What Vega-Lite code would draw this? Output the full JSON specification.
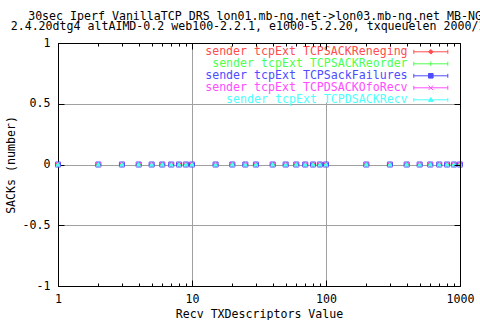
{
  "$schema": "https://vega.github.io/schema/vega-lite/v6.json",
  "width": 402,
  "height": 243,
  "autosize": {"type": "none"},
  "padding": {"left": 58, "top": 43, "right": 20, "bottom": 34},
  "background": "white",
  "title": {
    "text": ["30sec Iperf VanillaTCP DRS lon01.mb-ng.net->lon03.mb-ng.net MB-NG", "2.4.20dtg4 altAIMD-0.2 web100-2.2.1, e1000-5.2.20, txqueuelen 2000/100"],
    "anchor": "middle", "frame": "group", "dx": -4, "offset": 4,
    "font": "DejaVu Sans Mono", "fontSize": 11.6, "fontWeight": "normal", "color": "black", "lineHeight": 10.5
  },
  "data": {"values": [
    {"series": "sender tcpExt TCPSACKReneging", "x": 1, "y": 0},
    {"series": "sender tcpExt TCPSACKReneging", "x": 2, "y": 0},
    {"series": "sender tcpExt TCPSACKReneging", "x": 3, "y": 0},
    {"series": "sender tcpExt TCPSACKReneging", "x": 4, "y": 0},
    {"series": "sender tcpExt TCPSACKReneging", "x": 5, "y": 0},
    {"series": "sender tcpExt TCPSACKReneging", "x": 6, "y": 0},
    {"series": "sender tcpExt TCPSACKReneging", "x": 7, "y": 0},
    {"series": "sender tcpExt TCPSACKReneging", "x": 8, "y": 0},
    {"series": "sender tcpExt TCPSACKReneging", "x": 9, "y": 0},
    {"series": "sender tcpExt TCPSACKReneging", "x": 10, "y": 0},
    {"series": "sender tcpExt TCPSACKReneging", "x": 15, "y": 0},
    {"series": "sender tcpExt TCPSACKReneging", "x": 20, "y": 0},
    {"series": "sender tcpExt TCPSACKReneging", "x": 25, "y": 0},
    {"series": "sender tcpExt TCPSACKReneging", "x": 30, "y": 0},
    {"series": "sender tcpExt TCPSACKReneging", "x": 40, "y": 0},
    {"series": "sender tcpExt TCPSACKReneging", "x": 50, "y": 0},
    {"series": "sender tcpExt TCPSACKReneging", "x": 60, "y": 0},
    {"series": "sender tcpExt TCPSACKReneging", "x": 70, "y": 0},
    {"series": "sender tcpExt TCPSACKReneging", "x": 80, "y": 0},
    {"series": "sender tcpExt TCPSACKReneging", "x": 90, "y": 0},
    {"series": "sender tcpExt TCPSACKReneging", "x": 100, "y": 0},
    {"series": "sender tcpExt TCPSACKReneging", "x": 200, "y": 0},
    {"series": "sender tcpExt TCPSACKReneging", "x": 300, "y": 0},
    {"series": "sender tcpExt TCPSACKReneging", "x": 400, "y": 0},
    {"series": "sender tcpExt TCPSACKReneging", "x": 500, "y": 0},
    {"series": "sender tcpExt TCPSACKReneging", "x": 600, "y": 0},
    {"series": "sender tcpExt TCPSACKReneging", "x": 700, "y": 0},
    {"series": "sender tcpExt TCPSACKReneging", "x": 800, "y": 0},
    {"series": "sender tcpExt TCPSACKReneging", "x": 900, "y": 0},
    {"series": "sender tcpExt TCPSACKReneging", "x": 1000, "y": 0},
    {"series": "sender tcpExt TCPSACKReorder", "x": 1, "y": 0},
    {"series": "sender tcpExt TCPSACKReorder", "x": 2, "y": 0},
    {"series": "sender tcpExt TCPSACKReorder", "x": 3, "y": 0},
    {"series": "sender tcpExt TCPSACKReorder", "x": 4, "y": 0},
    {"series": "sender tcpExt TCPSACKReorder", "x": 5, "y": 0},
    {"series": "sender tcpExt TCPSACKReorder", "x": 6, "y": 0},
    {"series": "sender tcpExt TCPSACKReorder", "x": 7, "y": 0},
    {"series": "sender tcpExt TCPSACKReorder", "x": 8, "y": 0},
    {"series": "sender tcpExt TCPSACKReorder", "x": 9, "y": 0},
    {"series": "sender tcpExt TCPSACKReorder", "x": 10, "y": 0},
    {"series": "sender tcpExt TCPSACKReorder", "x": 15, "y": 0},
    {"series": "sender tcpExt TCPSACKReorder", "x": 20, "y": 0},
    {"series": "sender tcpExt TCPSACKReorder", "x": 25, "y": 0},
    {"series": "sender tcpExt TCPSACKReorder", "x": 30, "y": 0},
    {"series": "sender tcpExt TCPSACKReorder", "x": 40, "y": 0},
    {"series": "sender tcpExt TCPSACKReorder", "x": 50, "y": 0},
    {"series": "sender tcpExt TCPSACKReorder", "x": 60, "y": 0},
    {"series": "sender tcpExt TCPSACKReorder", "x": 70, "y": 0},
    {"series": "sender tcpExt TCPSACKReorder", "x": 80, "y": 0},
    {"series": "sender tcpExt TCPSACKReorder", "x": 90, "y": 0},
    {"series": "sender tcpExt TCPSACKReorder", "x": 100, "y": 0},
    {"series": "sender tcpExt TCPSACKReorder", "x": 200, "y": 0},
    {"series": "sender tcpExt TCPSACKReorder", "x": 300, "y": 0},
    {"series": "sender tcpExt TCPSACKReorder", "x": 400, "y": 0},
    {"series": "sender tcpExt TCPSACKReorder", "x": 500, "y": 0},
    {"series": "sender tcpExt TCPSACKReorder", "x": 600, "y": 0},
    {"series": "sender tcpExt TCPSACKReorder", "x": 700, "y": 0},
    {"series": "sender tcpExt TCPSACKReorder", "x": 800, "y": 0},
    {"series": "sender tcpExt TCPSACKReorder", "x": 900, "y": 0},
    {"series": "sender tcpExt TCPSACKReorder", "x": 1000, "y": 0},
    {"series": "sender tcpExt TCPSackFailures", "x": 1, "y": 0},
    {"series": "sender tcpExt TCPSackFailures", "x": 2, "y": 0},
    {"series": "sender tcpExt TCPSackFailures", "x": 3, "y": 0},
    {"series": "sender tcpExt TCPSackFailures", "x": 4, "y": 0},
    {"series": "sender tcpExt TCPSackFailures", "x": 5, "y": 0},
    {"series": "sender tcpExt TCPSackFailures", "x": 6, "y": 0},
    {"series": "sender tcpExt TCPSackFailures", "x": 7, "y": 0},
    {"series": "sender tcpExt TCPSackFailures", "x": 8, "y": 0},
    {"series": "sender tcpExt TCPSackFailures", "x": 9, "y": 0},
    {"series": "sender tcpExt TCPSackFailures", "x": 10, "y": 0},
    {"series": "sender tcpExt TCPSackFailures", "x": 15, "y": 0},
    {"series": "sender tcpExt TCPSackFailures", "x": 20, "y": 0},
    {"series": "sender tcpExt TCPSackFailures", "x": 25, "y": 0},
    {"series": "sender tcpExt TCPSackFailures", "x": 30, "y": 0},
    {"series": "sender tcpExt TCPSackFailures", "x": 40, "y": 0},
    {"series": "sender tcpExt TCPSackFailures", "x": 50, "y": 0},
    {"series": "sender tcpExt TCPSackFailures", "x": 60, "y": 0},
    {"series": "sender tcpExt TCPSackFailures", "x": 70, "y": 0},
    {"series": "sender tcpExt TCPSackFailures", "x": 80, "y": 0},
    {"series": "sender tcpExt TCPSackFailures", "x": 90, "y": 0},
    {"series": "sender tcpExt TCPSackFailures", "x": 100, "y": 0},
    {"series": "sender tcpExt TCPSackFailures", "x": 200, "y": 0},
    {"series": "sender tcpExt TCPSackFailures", "x": 300, "y": 0},
    {"series": "sender tcpExt TCPSackFailures", "x": 400, "y": 0},
    {"series": "sender tcpExt TCPSackFailures", "x": 500, "y": 0},
    {"series": "sender tcpExt TCPSackFailures", "x": 600, "y": 0},
    {"series": "sender tcpExt TCPSackFailures", "x": 700, "y": 0},
    {"series": "sender tcpExt TCPSackFailures", "x": 800, "y": 0},
    {"series": "sender tcpExt TCPSackFailures", "x": 900, "y": 0},
    {"series": "sender tcpExt TCPSackFailures", "x": 1000, "y": 0},
    {"series": "sender tcpExt TCPDSACKOfoRecv", "x": 1, "y": 0},
    {"series": "sender tcpExt TCPDSACKOfoRecv", "x": 2, "y": 0},
    {"series": "sender tcpExt TCPDSACKOfoRecv", "x": 3, "y": 0},
    {"series": "sender tcpExt TCPDSACKOfoRecv", "x": 4, "y": 0},
    {"series": "sender tcpExt TCPDSACKOfoRecv", "x": 5, "y": 0},
    {"series": "sender tcpExt TCPDSACKOfoRecv", "x": 6, "y": 0},
    {"series": "sender tcpExt TCPDSACKOfoRecv", "x": 7, "y": 0},
    {"series": "sender tcpExt TCPDSACKOfoRecv", "x": 8, "y": 0},
    {"series": "sender tcpExt TCPDSACKOfoRecv", "x": 9, "y": 0},
    {"series": "sender tcpExt TCPDSACKOfoRecv", "x": 10, "y": 0},
    {"series": "sender tcpExt TCPDSACKOfoRecv", "x": 15, "y": 0},
    {"series": "sender tcpExt TCPDSACKOfoRecv", "x": 20, "y": 0},
    {"series": "sender tcpExt TCPDSACKOfoRecv", "x": 25, "y": 0},
    {"series": "sender tcpExt TCPDSACKOfoRecv", "x": 30, "y": 0},
    {"series": "sender tcpExt TCPDSACKOfoRecv", "x": 40, "y": 0},
    {"series": "sender tcpExt TCPDSACKOfoRecv", "x": 50, "y": 0},
    {"series": "sender tcpExt TCPDSACKOfoRecv", "x": 60, "y": 0},
    {"series": "sender tcpExt TCPDSACKOfoRecv", "x": 70, "y": 0},
    {"series": "sender tcpExt TCPDSACKOfoRecv", "x": 80, "y": 0},
    {"series": "sender tcpExt TCPDSACKOfoRecv", "x": 90, "y": 0},
    {"series": "sender tcpExt TCPDSACKOfoRecv", "x": 100, "y": 0},
    {"series": "sender tcpExt TCPDSACKOfoRecv", "x": 200, "y": 0},
    {"series": "sender tcpExt TCPDSACKOfoRecv", "x": 300, "y": 0},
    {"series": "sender tcpExt TCPDSACKOfoRecv", "x": 400, "y": 0},
    {"series": "sender tcpExt TCPDSACKOfoRecv", "x": 500, "y": 0},
    {"series": "sender tcpExt TCPDSACKOfoRecv", "x": 600, "y": 0},
    {"series": "sender tcpExt TCPDSACKOfoRecv", "x": 700, "y": 0},
    {"series": "sender tcpExt TCPDSACKOfoRecv", "x": 800, "y": 0},
    {"series": "sender tcpExt TCPDSACKOfoRecv", "x": 900, "y": 0},
    {"series": "sender tcpExt TCPDSACKOfoRecv", "x": 1000, "y": 0},
    {"series": "sender tcpExt TCPDSACKRecv", "x": 1, "y": 0},
    {"series": "sender tcpExt TCPDSACKRecv", "x": 2, "y": 0},
    {"series": "sender tcpExt TCPDSACKRecv", "x": 3, "y": 0},
    {"series": "sender tcpExt TCPDSACKRecv", "x": 4, "y": 0},
    {"series": "sender tcpExt TCPDSACKRecv", "x": 5, "y": 0},
    {"series": "sender tcpExt TCPDSACKRecv", "x": 6, "y": 0},
    {"series": "sender tcpExt TCPDSACKRecv", "x": 7, "y": 0},
    {"series": "sender tcpExt TCPDSACKRecv", "x": 8, "y": 0},
    {"series": "sender tcpExt TCPDSACKRecv", "x": 9, "y": 0},
    {"series": "sender tcpExt TCPDSACKRecv", "x": 10, "y": 0},
    {"series": "sender tcpExt TCPDSACKRecv", "x": 15, "y": 0},
    {"series": "sender tcpExt TCPDSACKRecv", "x": 20, "y": 0},
    {"series": "sender tcpExt TCPDSACKRecv", "x": 25, "y": 0},
    {"series": "sender tcpExt TCPDSACKRecv", "x": 30, "y": 0},
    {"series": "sender tcpExt TCPDSACKRecv", "x": 40, "y": 0},
    {"series": "sender tcpExt TCPDSACKRecv", "x": 50, "y": 0},
    {"series": "sender tcpExt TCPDSACKRecv", "x": 60, "y": 0},
    {"series": "sender tcpExt TCPDSACKRecv", "x": 70, "y": 0},
    {"series": "sender tcpExt TCPDSACKRecv", "x": 80, "y": 0},
    {"series": "sender tcpExt TCPDSACKRecv", "x": 90, "y": 0},
    {"series": "sender tcpExt TCPDSACKRecv", "x": 100, "y": 0},
    {"series": "sender tcpExt TCPDSACKRecv", "x": 200, "y": 0},
    {"series": "sender tcpExt TCPDSACKRecv", "x": 300, "y": 0},
    {"series": "sender tcpExt TCPDSACKRecv", "x": 400, "y": 0},
    {"series": "sender tcpExt TCPDSACKRecv", "x": 500, "y": 0},
    {"series": "sender tcpExt TCPDSACKRecv", "x": 600, "y": 0},
    {"series": "sender tcpExt TCPDSACKRecv", "x": 700, "y": 0},
    {"series": "sender tcpExt TCPDSACKRecv", "x": 800, "y": 0},
    {"series": "sender tcpExt TCPDSACKRecv", "x": 900, "y": 0},
    {"series": "sender tcpExt TCPDSACKRecv", "x": 1000, "y": 0}
  ]},
  "layer": [
    {
      "transform": [{"filter": {"field": "series", "equal": "sender tcpExt TCPSACKReneging"}}],
      "mark": {"type": "point", "shape": "M0,-1L1,0L0,1L-1,0Z", "filled": false, "size": 25, "strokeWidth": 1, "opacity": 1},
      "encoding": {
        "x": {"field": "x", "type": "quantitative", "scale": {"type": "log", "domain": [1, 1000], "nice": false},
          "axis": {"orient": "bottom", "values": [1, 10, 100, 1000], "labelExpr": "toString(datum.value)", "tickSize": -6, "labelPadding": 13, "grid": true, "title": "Recv TXDescriptors Value", "titlePadding": 4}},
        "y": {"field": "y", "type": "quantitative", "scale": {"domain": [-1, 1], "nice": false},
          "axis": {"orient": "left", "values": [-1, -0.5, 0, 0.5, 1], "labelExpr": "toString(datum.value)", "tickSize": -6, "labelPadding": 14, "grid": true, "title": "SACKs (number)", "titlePadding": 6}},
        "color": {
          "field": "series", "type": "nominal",
          "scale": {
            "domain": ["sender tcpExt TCPSACKReneging", "sender tcpExt TCPSACKReorder", "sender tcpExt TCPSackFailures", "sender tcpExt TCPDSACKOfoRecv", "sender tcpExt TCPDSACKRecv"],
            "range": ["#ff4d4d", "#4dff4d", "#4d4dff", "#ff4dff", "#4dffff"]
          },
          "legend": {
            "orient": "none", "legendX": 367, "legendY": 3, "title": null,
            "labelFont": "DejaVu Sans Mono", "labelFontSize": 11.6, "labelAlign": "right", "labelOffset": -29, "labelLimit": 0,
            "labelColor": {"expr": "scale('color', datum.value)"},
            "symbolType": {"expr": "datum.value === 'sender tcpExt TCPSACKReneging' ? 'M-3.4,0H3.4M-3.4,-0.4V0.4M3.4,-0.4V0.4M0,-0.46L0.46,0L0,0.46L-0.46,0Z' : datum.value === 'sender tcpExt TCPSACKReorder' ? 'M-3.4,0H3.4M-3.4,-0.4V0.4M3.4,-0.4V0.4M0,-0.46V0.46' : datum.value === 'sender tcpExt TCPSackFailures' ? 'M-3.4,0H3.4M-3.4,-0.4V0.4M3.4,-0.4V0.4M-0.46,-0.46H0.46V0.46H-0.46Z' : datum.value === 'sender tcpExt TCPDSACKOfoRecv' ? 'M-3.4,0H3.4M-3.4,-0.4V0.4M3.4,-0.4V0.4M-0.46,-0.46L0.46,0.46M-0.46,0.46L0.46,-0.46' : 'M-3.4,0H3.4M-3.4,-0.4V0.4M3.4,-0.4V0.4M0,-0.46L0.46,0.33H-0.46Z'"},
            "symbolSize": 100, "symbolStrokeWidth": 1, "symbolFillColor": "transparent",
            "symbolStrokeColor": {"expr": "scale('color', datum.value)"},
            "rowPadding": -5, "padding": 0
          }
        }
      }
    },
    {
      "transform": [{"filter": {"field": "series", "equal": "sender tcpExt TCPSACKReorder"}}],
      "mark": {"type": "point", "shape": "M-1,0H1M0,-1V1", "filled": false, "size": 25, "strokeWidth": 1, "opacity": 1},
      "encoding": {
        "x": {"field": "x", "type": "quantitative", "axis": null},
        "y": {"field": "y", "type": "quantitative", "axis": null},
        "color": {"field": "series", "type": "nominal", "legend": null}
      }
    },
    {
      "transform": [{"filter": {"field": "series", "equal": "sender tcpExt TCPSackFailures"}}],
      "mark": {"type": "point", "shape": "M-1,-1H1V1H-1Z", "filled": false, "size": 25, "strokeWidth": 1, "opacity": 1},
      "encoding": {
        "x": {"field": "x", "type": "quantitative", "axis": null},
        "y": {"field": "y", "type": "quantitative", "axis": null},
        "color": {"field": "series", "type": "nominal", "legend": null}
      }
    },
    {
      "transform": [{"filter": {"field": "series", "equal": "sender tcpExt TCPDSACKOfoRecv"}}],
      "mark": {"type": "point", "shape": "M-1,-1L1,1M-1,1L1,-1", "filled": false, "size": 25, "strokeWidth": 1, "opacity": 1},
      "encoding": {
        "x": {"field": "x", "type": "quantitative", "axis": null},
        "y": {"field": "y", "type": "quantitative", "axis": null},
        "color": {"field": "series", "type": "nominal", "legend": null}
      }
    },
    {
      "transform": [{"filter": {"field": "series", "equal": "sender tcpExt TCPDSACKRecv"}}],
      "mark": {"type": "point", "shape": "M0,-1L1,0.8H-1Z", "filled": true, "size": 25, "strokeWidth": 1, "opacity": 1},
      "encoding": {
        "x": {"field": "x", "type": "quantitative", "axis": null},
        "y": {"field": "y", "type": "quantitative", "axis": null},
        "color": {"field": "series", "type": "nominal", "legend": null}
      }
    },
    {
      "data": {"values": [{}]},
      "mark": {"type": "rect", "stroke": null, "fill": "white"},
      "encoding": {
        "x": {"datum": 12, "type": "quantitative", "axis": null},
        "x2": {"datum": 1000},
        "y": {"datum": 0.51, "type": "quantitative", "axis": null},
        "y2": {"datum": 1}
      }
    },
    {
      "transform": [{"filter": {"field": "series", "equal": "sender tcpExt TCPDSACKRecv"}}],
      "mark": {"type": "point", "opacity": 0, "size": 0},
      "encoding": {
        "x": {"field": "x", "type": "quantitative",
          "axis": {"orient": "top", "values": [1, 10, 100, 1000], "labels": false, "tickSize": -6, "grid": false, "title": null, "zindex": 1}},
        "y": {"field": "y", "type": "quantitative",
          "axis": {"orient": "right", "values": [-1, -0.5, 0, 0.5, 1], "labels": false, "tickSize": -6, "grid": false, "title": null, "zindex": 1}}
      }
    },
    {
      "transform": [{"filter": {"field": "series", "equal": "sender tcpExt TCPDSACKRecv"}}],
      "mark": {"type": "point", "opacity": 0, "size": 0},
      "encoding": {
        "x": {"field": "x", "type": "quantitative",
          "axis": {"orient": "top", "values": [2, 3, 4, 5, 6, 7, 8, 9, 20, 30, 40, 50, 60, 70, 80, 90, 200, 300, 400, 500, 600, 700, 800, 900], "labels": false, "tickSize": -3, "grid": false, "domain": false, "title": null, "zindex": 1}},
        "y": {"field": "y", "type": "quantitative", "axis": null}
      }
    },
    {
      "transform": [{"filter": {"field": "series", "equal": "sender tcpExt TCPDSACKRecv"}}],
      "mark": {"type": "point", "opacity": 0, "size": 0},
      "encoding": {
        "x": {"field": "x", "type": "quantitative",
          "axis": {"orient": "bottom", "values": [2, 3, 4, 5, 6, 7, 8, 9, 20, 30, 40, 50, 60, 70, 80, 90, 200, 300, 400, 500, 600, 700, 800, 900], "labels": false, "tickSize": -3, "grid": false, "domain": false, "title": null, "zindex": 1}},
        "y": {"field": "y", "type": "quantitative", "axis": null}
      }
    }
  ],
  "resolve": {"axis": {"x": "independent", "y": "independent"}},
  "config": {
    "font": "DejaVu Sans Mono",
    "view": {"stroke": "black", "strokeWidth": 1},
    "axis": {
      "labelFont": "DejaVu Sans Mono", "labelFontSize": 11.6, "labelColor": "black",
      "titleFont": "DejaVu Sans Mono", "titleFontSize": 11.6, "titleFontWeight": "normal", "titleColor": "black",
      "domainColor": "black", "tickColor": "black", "gridColor": "#a0a0a0", "gridOpacity": 1,
      "labelFlush": false, "labelOverlap": false, "labelBound": false
    }
  }
}
